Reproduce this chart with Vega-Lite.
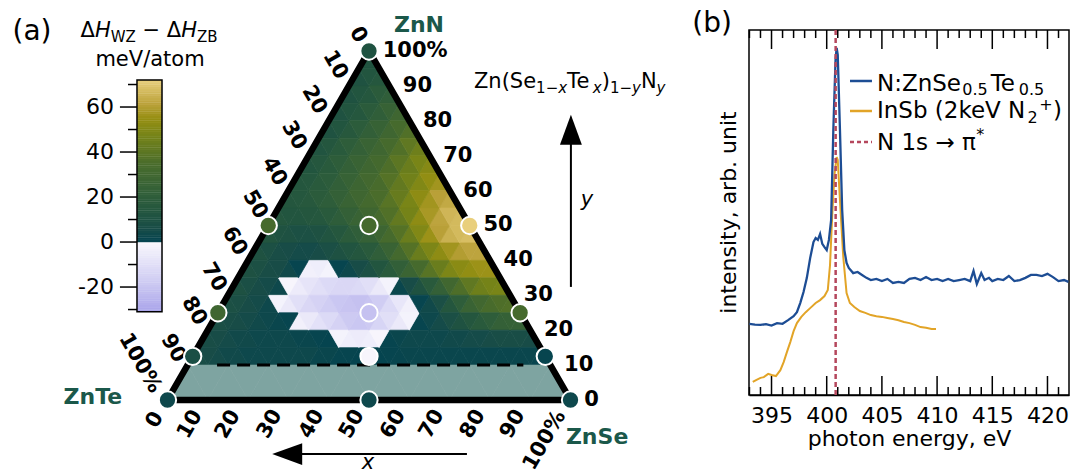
{
"$schema": "https://vega.github.io/schema/vega-lite/v6.json",
"padding": 0,
"background": "white",
"bounds": "flush",
"spacing": 59,
"config": {"font": "DejaVu Sans", "view": {"stroke": null}},
"datasets": {
"hm": [
{"n":12.5,"u":[7.5,10,12.5,15,17.5,20,22.5,25,27.5,30,32.5,35,37.5,40,42.5,45,47.5,50,52.5,55,57.5,60,62.5,65,67.5,70,72.5,75,77.5,80,82.5,85,87.5,90,92.5],"v":[7,6,5,4,4,3,3,3,3,3,3,3,2,2,1,1,0.5,0.5,0.5,1,1.5,2,2,2,2,2,2,2,2,2,2,2,2,2,1]},
{"n":17.5,"u":[10,12.5,15,17.5,20,22.5,25,27.5,30,32.5,35,37.5,40,42.5,45,47.5,50,52.5,55,57.5,60,62.5,65,67.5,70,72.5,75,77.5,80,82.5,85,87.5,90],"v":[7,6,5,4,4,3,3,3,3,2,2,1,0.5,-2,-4,-5,-4,-1,1,2,3,3,3,3,4,4,5,5,6,7,7,7,6]},
{"n":22.5,"u":[12.5,15,17.5,20,22.5,25,27.5,30,32.5,35,37.5,40,42.5,45,47.5,50,52.5,55,57.5,60,62.5,65,67.5,70,72.5,75,77.5,80,82.5,85,87.5],"v":[8,7,6,5,4,3,2,1,-3,-6,-9,-12,-15,-18,-19,-18,-14,-10,-6,-2,1,3,5,8,11,14,17,20,23,24,24]},
{"n":27.5,"u":[15,17.5,20,22.5,25,27.5,30,32.5,35,37.5,40,42.5,45,47.5,50,52.5,55,57.5,60,62.5,65,67.5,70,72.5,75,77.5,80,82.5,85],"v":[9,8,6,5,3,-2,-6,-10,-13,-15,-17,-19,-20,-21,-20,-17,-12,-7,-3,1,4,8,14,20,26,30,34,36,37]},
{"n":32.5,"u":[17.5,20,22.5,25,27.5,30,32.5,35,37.5,40,42.5,45,47.5,50,52.5,55,57.5,60,62.5,65,67.5,70,72.5,75,77.5,80,82.5],"v":[10,8,6,5,3,-1,-5,-8,-10,-12,-13,-13,-12,-10,-6,-2,2,6,11,17,23,30,36,41,45,47,48]},
{"n":37.5,"u":[20,22.5,25,27.5,30,32.5,35,37.5,40,42.5,45,47.5,50,52.5,55,57.5,60,62.5,65,67.5,70,72.5,75,77.5,80],"v":[10,9,7,6,4,1,-3,-4,-2,1,3,6,9,13,17,22,27,33,39,44,49,52,54,56,56]},
{"n":42.5,"u":[22.5,25,27.5,30,32.5,35,37.5,40,42.5,45,47.5,50,52.5,55,57.5,60,62.5,65,67.5,70,72.5,75,77.5],"v":[11,9,7,6,5,5,6,8,10,12,14,17,21,26,32,38,44,49,53,57,60,62,62]},
{"n":47.5,"u":[25,27.5,30,32.5,35,37.5,40,42.5,45,47.5,50,52.5,55,57.5,60,62.5,65,67.5,70,72.5,75],"v":[13,11,10,9,9,10,12,15,18,21,24,28,33,38,44,50,56,61,65,67,68]},
{"n":52.5,"u":[27.5,30,32.5,35,37.5,40,42.5,45,47.5,50,52.5,55,57.5,60,62.5,65,67.5,70,72.5],"v":[14,13,13,14,15,17,20,23,26,29,33,37,42,47,53,58,62,66,67]},
{"n":57.5,"u":[30,32.5,35,37.5,40,42.5,45,47.5,50,52.5,55,57.5,60,62.5,65,67.5,70],"v":[14,15,16,18,20,23,26,29,32,35,39,43,48,53,57,61,63]},
{"n":62.5,"u":[32.5,35,37.5,40,42.5,45,47.5,50,52.5,55,57.5,60,62.5,65,67.5],"v":[14,15,17,19,22,25,28,31,34,38,42,46,50,54,57]},
{"n":67.5,"u":[35,37.5,40,42.5,45,47.5,50,52.5,55,57.5,60,62.5,65],"v":[13,15,17,20,23,26,29,32,36,40,44,48,51]},
{"n":72.5,"u":[37.5,40,42.5,45,47.5,50,52.5,55,57.5,60,62.5],"v":[12,14,17,20,23,26,29,33,37,41,45]},
{"n":77.5,"u":[40,42.5,45,47.5,50,52.5,55,57.5,60],"v":[11,13,16,19,22,25,29,33,37]},
{"n":82.5,"u":[42.5,45,47.5,50,52.5,55,57.5],"v":[11,13,15,18,21,25,29]},
{"n":87.5,"u":[45,47.5,50,52.5,55],"v":[11,13,15,18,21]},
{"n":92.5,"u":[47.5,50,52.5],"v":[11,13,15]},
{"n":97.5,"u":[50],"v":[12]}
],
"band": [{"n":5,"u":[5,10,15,20,25,30,35,40,45,50,55,60,65,70,75,80,85,90,95]}],
"outline": [{"u":0,"n":0,"o":0},{"u":50,"n":100,"o":1},{"u":100,"n":0,"o":2},{"u":0,"n":0,"o":3}],
"pts": [{"u":50,"n":100,"w":11},{"u":25,"n":50,"w":33},{"u":50,"n":50,"w":33},{"u":75,"n":50,"w":72},{"u":12.5,"n":25,"w":29},{"u":50,"n":25,"w":-21},{"u":87.5,"n":25,"w":33},{"u":6.25,"n":12.5,"w":8},{"u":50,"n":12.5,"w":-1},{"u":93.75,"n":12.5,"w":1},{"u":0,"n":0,"w":3},{"u":50,"n":0,"w":3},{"u":100,"n":0,"w":3}],
"rlab": [{"t":"100%","u":53.4,"n":100},{"t":"90","u":58.4,"n":90},{"t":"80","u":63.4,"n":80},{"t":"70","u":68.4,"n":70},{"t":"60","u":73.4,"n":60},{"t":"50","u":78.4,"n":50},{"t":"40","u":83.4,"n":40},{"t":"30","u":88.4,"n":30},{"t":"20","u":93.4,"n":20},{"t":"10","u":98.4,"n":10},{"t":"0","u":103.4,"n":0}],
"llab": [{"t":"0","u":47.3,"n":104.6},{"t":"10","u":41.6,"n":96.0},{"t":"20","u":36.4,"n":86.0},{"t":"30","u":31.4,"n":75.8},{"t":"40","u":26.5,"n":65.5},{"t":"50","u":21.7,"n":56.0},{"t":"60","u":16.6,"n":45.5},{"t":"70","u":11.5,"n":35.2},{"t":"80","u":6.6,"n":25.5},{"t":"90","u":1.4,"n":14.8},{"t":"100%","u":-6.8,"n":10.6}],
"blab": [{"t":"0","u":-3.1,"n":-5.7},{"t":"10","u":5.6,"n":-7.0},{"t":"20","u":15.0,"n":-7.0},{"t":"30","u":25.4,"n":-6.9},{"t":"40","u":35.8,"n":-6.9},{"t":"50","u":45.8,"n":-6.9},{"t":"60","u":56.0,"n":-6.9},{"t":"70","u":65.6,"n":-6.9},{"t":"80","u":75.8,"n":-6.9},{"t":"90","u":85.7,"n":-6.9},{"t":"100%","u":93.6,"n":-11.6}],
"corner": [{"t":"ZnN","u":62.4,"n":107.4},{"t":"ZnTe","u":-18.5,"n":0.9},{"t":"ZnSe","u":106.6,"n":-10.6}],
"tmain": [{"t":"Zn(Se","u":76.05,"n":89.4},{"t":"Te","u":99.16,"n":89.4},{"t":")","u":107.74,"n":89.4},{"t":"N","u":117.47,"n":89.4},{"t":"Δ","u":-21.59,"n":104.01},{"t":"−","u":-6.2,"n":104.01},{"t":"Δ","u":-0.17,"n":104.01}],
"tsub": [{"t":"1−","u":91.46,"n":87.97},{"t":"1−","u":109.78,"n":87.97},{"t":"WZ","u":-14.09,"n":102.58},{"t":"ZB","u":7.32,"n":102.58}],
"tital": [{"t":"H","u":-18.01,"n":104.01},{"t":"H","u":3.4,"n":104.01}],
"tsubital": [{"t":"x","u":96.95,"n":87.97},{"t":"x","u":105.53,"n":87.97},{"t":"y","u":115.26,"n":87.97},{"t":"y","u":121.36,"n":87.97}],
"arrlab": [{"t":"x","u":49.75,"n":-18.0},{"t":"y","u":104.09,"n":57.31}],
"cb": [{"cv":[-30.5,-29.5,-28.5,-27.5,-26.5,-25.5,-24.5,-23.5,-22.5,-21.5,-20.5,-19.5,-18.5,-17.5,-16.5,-15.5,-14.5,-13.5,-12.5,-11.5,-10.5,-9.5,-8.5,-7.5,-6.5,-5.5,-4.5,-3.5,-2.5,-1.5,-0.5,0.5,1.5,2.5,3.5,4.5,5.5,6.5,7.5,8.5,9.5,10.5,11.5,12.5,13.5,14.5,15.5,16.5,17.5,18.5,19.5,20.5,21.5,22.5,23.5,24.5,25.5,26.5,27.5,28.5,29.5,30.5,31.5,32.5,33.5,34.5,35.5,36.5,37.5,38.5,39.5,40.5,41.5,42.5,43.5,44.5,45.5,46.5,47.5,48.5,49.5,50.5,51.5,52.5,53.5,54.5,55.5,56.5,57.5,58.5,59.5,60.5,61.5,62.5,63.5,64.5,65.5,66.5,67.5,68.5,69.5,70.5,71.5]}],
"cbmaj": [{"cv":-20},{"cv":0},{"cv":20},{"cv":40},{"cv":60}],
"cbmin": [{"cv":-30},{"cv":-10},{"cv":10},{"cv":30},{"cv":50},{"cv":70}],
"cblab": [{"t":"60","cv":60},{"t":"40","cv":40},{"t":"20","cv":20},{"t":"0","cv":0},{"t":"-20","cv":-20}],
"majt": [{"e":[395,400,405,410,415,420]}],
"mint": [{"e":[393,394,396,397,398,399,401,402,403,404,406,407,408,409,411,412,413,414,416,417,418,419,421]}],
"blue": [{"e":393.0,"i":19.5},{"e":393.5,"i":19.3},{"e":394.0,"i":19.2},{"e":394.5,"i":19.4},{"e":395.0,"i":19.0},{"e":395.5,"i":19.7},{"e":396.0,"i":19.5},{"e":396.5,"i":20.5},{"e":397.0,"i":21.6},{"e":397.3,"i":22.7},{"e":397.6,"i":25.2},{"e":397.9,"i":28.2},{"e":398.2,"i":32.1},{"e":398.5,"i":37.5},{"e":398.8,"i":41.9},{"e":399.0,"i":43.0},{"e":399.2,"i":42.5},{"e":399.4,"i":44.1},{"e":399.6,"i":41.4},{"e":399.8,"i":40.5},{"e":400.0,"i":39.7},{"e":400.2,"i":42.5},{"e":400.4,"i":47.9},{"e":400.6,"i":72.6},{"e":400.8,"i":91.8},{"e":400.9,"i":95.1},{"e":401.0,"i":93.2},{"e":401.2,"i":72.6},{"e":401.4,"i":50.7},{"e":401.6,"i":39.7},{"e":401.8,"i":36.2},{"e":402.0,"i":34.8},{"e":402.4,"i":33.4},{"e":402.8,"i":33.7},{"e":403.2,"i":32.9},{"e":403.6,"i":32.1},{"e":404.0,"i":31.5},{"e":404.5,"i":31.8},{"e":405.0,"i":31.2},{"e":405.5,"i":31.8},{"e":406.0,"i":30.7},{"e":406.5,"i":31.0},{"e":407.0,"i":30.7},{"e":407.5,"i":31.8},{"e":408.0,"i":32.1},{"e":408.5,"i":31.5},{"e":409.0,"i":32.3},{"e":409.5,"i":31.5},{"e":410.0,"i":31.8},{"e":410.5,"i":31.2},{"e":411.0,"i":31.8},{"e":411.5,"i":31.2},{"e":412.0,"i":31.5},{"e":412.5,"i":31.8},{"e":413.0,"i":31.2},{"e":413.3,"i":34.0},{"e":413.6,"i":30.4},{"e":414.0,"i":33.4},{"e":414.3,"i":31.5},{"e":414.7,"i":32.1},{"e":415.0,"i":31.2},{"e":415.5,"i":31.8},{"e":416.0,"i":31.5},{"e":416.5,"i":32.6},{"e":417.0,"i":31.2},{"e":417.5,"i":31.5},{"e":418.0,"i":32.1},{"e":418.5,"i":32.9},{"e":419.0,"i":32.9},{"e":419.5,"i":32.6},{"e":420.0,"i":33.2},{"e":420.5,"i":32.3},{"e":421.0,"i":31.2},{"e":421.5,"i":31.5},{"e":421.9,"i":31.0}],
"orange": [{"e":393.3,"i":3.6},{"e":393.6,"i":4.1},{"e":394.0,"i":4.7},{"e":394.3,"i":4.9},{"e":394.7,"i":5.8},{"e":395.0,"i":5.5},{"e":395.4,"i":5.2},{"e":395.8,"i":6.8},{"e":396.1,"i":9.0},{"e":396.4,"i":11.8},{"e":396.7,"i":14.5},{"e":397.0,"i":17.5},{"e":397.3,"i":19.7},{"e":397.7,"i":21.4},{"e":398.1,"i":22.7},{"e":398.5,"i":23.8},{"e":399.0,"i":25.2},{"e":399.4,"i":26.0},{"e":399.8,"i":27.1},{"e":400.1,"i":28.8},{"e":400.3,"i":35.6},{"e":400.5,"i":49.3},{"e":400.7,"i":60.3},{"e":400.9,"i":65.2},{"e":401.0,"i":64.4},{"e":401.2,"i":53.4},{"e":401.5,"i":37.8},{"e":401.8,"i":27.9},{"e":402.1,"i":25.2},{"e":402.5,"i":24.1},{"e":403.0,"i":23.0},{"e":403.5,"i":22.5},{"e":404.0,"i":21.9},{"e":404.5,"i":21.6},{"e":405.0,"i":21.4},{"e":405.5,"i":21.1},{"e":406.0,"i":20.8},{"e":406.5,"i":20.5},{"e":407.0,"i":20.0},{"e":407.5,"i":19.7},{"e":408.0,"i":19.2},{"e":408.5,"i":18.6},{"e":409.0,"i":18.4},{"e":409.5,"i":18.1},{"e":409.9,"i":18.1}],
"lmain": [{"t":"N:ZnSe","e":404.55,"i":83.29},{"t":"Te","e":414.85,"i":83.29},{"t":"InSb (2keV N","e":404.55,"i":75.89},{"t":")","e":420.5,"i":75.89},{"t":"N 1s → π","e":404.55,"i":67.12}],
"lsub": [{"t":"0.5","e":412.28,"i":82.2},{"t":"0.5","e":417.4,"i":82.2},{"t":"2","e":418.2,"i":74.52},{"t":"+","e":419.25,"i":78.0},{"t":"*","e":413.55,"i":69.86}]
},
"hconcat": [
{
"width": 690, "height": 472,
"resolve": {"scale": {"y": "independent"}},
"layer": [
{"data": {"name": "hm"}, "transform": [{"flatten": ["u", "v"]}, {"filter": "(datum.u - datum.n/2) % 5 < 2.5"}],
 "mark": {"type": "point", "shape": "triangle-up", "size": 406, "filled": true, "opacity": 1, "strokeWidth": 0.7},
 "encoding": {
  "x": {"field": "u", "type": "quantitative", "scale": {"domain": [-41.56, 129.65], "nice": false, "zero": false}, "axis": null},
  "y": {"field": "n", "type": "quantitative", "scale": {"domain": [-20.63, 114.61], "nice": false, "zero": false}, "axis": null},
  "color": {"field": "v", "type": "quantitative", "scale": {"domain": [-31,-17,-0.01,0,6,13,20,35,47,55,61,72], "range": ["#a9a4ea","#d0cdf3","#f9f8fd","#034350","#184c47","#22553f","#2e5d3a","#4a6c2b","#758318","#968f12","#b9a038","#e9cf7c"], "interpolate": "rgb"}, "legend": null},
  "stroke": {"field": "v", "type": "quantitative", "scale": {"domain": [-31,-17,-0.01,0,6,13,20,35,47,55,61,72], "range": ["#a9a4ea","#d0cdf3","#f9f8fd","#034350","#184c47","#22553f","#2e5d3a","#4a6c2b","#758318","#968f12","#b9a038","#e9cf7c"], "interpolate": "rgb"}, "legend": null}
 }},
{"data": {"name": "hm"}, "transform": [{"flatten": ["u", "v"]}, {"filter": "(datum.u - datum.n/2) % 5 >= 2.5"}],
 "mark": {"type": "point", "shape": "triangle-down", "size": 406, "filled": true, "opacity": 1, "strokeWidth": 0.7},
 "encoding": {
  "x": {"field": "u", "type": "quantitative", "scale": {"domain": [-41.56, 129.65], "nice": false, "zero": false}, "axis": null},
  "y": {"field": "n", "type": "quantitative", "scale": {"domain": [-20.63, 114.61], "nice": false, "zero": false}, "axis": null},
  "color": {"field": "v", "type": "quantitative", "scale": {"domain": [-31,-17,-0.01,0,6,13,20,35,47,55,61,72], "range": ["#a9a4ea","#d0cdf3","#f9f8fd","#034350","#184c47","#22553f","#2e5d3a","#4a6c2b","#758318","#968f12","#b9a038","#e9cf7c"], "interpolate": "rgb"}, "legend": null},
  "stroke": {"field": "v", "type": "quantitative", "scale": {"domain": [-31,-17,-0.01,0,6,13,20,35,47,55,61,72], "range": ["#a9a4ea","#d0cdf3","#f9f8fd","#034350","#184c47","#22553f","#2e5d3a","#4a6c2b","#758318","#968f12","#b9a038","#e9cf7c"], "interpolate": "rgb"}, "legend": null}
 }},
{"data": {"name": "band"}, "transform": [{"flatten": ["u"]}, {"filter": "(datum.u - datum.n/2) % 10 < 5"}],
 "mark": {"type": "point", "shape": "triangle-up", "size": 1624, "filled": true, "opacity": 1, "color": "#7ea4a1", "stroke": "#7ea4a1", "strokeWidth": 0.7},
 "encoding": {
  "x": {"field": "u", "type": "quantitative", "scale": {"domain": [-41.56, 129.65], "nice": false, "zero": false}, "axis": null},
  "y": {"field": "n", "type": "quantitative", "scale": {"domain": [-20.63, 114.61], "nice": false, "zero": false}, "axis": null}
 }},
{"data": {"name": "band"}, "transform": [{"flatten": ["u"]}, {"filter": "(datum.u - datum.n/2) % 10 >= 5"}],
 "mark": {"type": "point", "shape": "triangle-down", "size": 1624, "filled": true, "opacity": 1, "color": "#7ea4a1", "stroke": "#7ea4a1", "strokeWidth": 0.7},
 "encoding": {
  "x": {"field": "u", "type": "quantitative", "scale": {"domain": [-41.56, 129.65], "nice": false, "zero": false}, "axis": null},
  "y": {"field": "n", "type": "quantitative", "scale": {"domain": [-20.63, 114.61], "nice": false, "zero": false}, "axis": null}
 }},
{"data": {"name": "outline"},
 "mark": {"type": "line", "color": "black", "strokeWidth": 6.5, "strokeJoin": "miter"},
 "encoding": {
  "x": {"field": "u", "type": "quantitative", "scale": {"domain": [-41.56, 129.65], "nice": false, "zero": false}, "axis": null},
  "y": {"field": "n", "type": "quantitative", "scale": {"domain": [-20.63, 114.61], "nice": false, "zero": false}, "axis": null},
  "order": {"field": "o", "type": "quantitative"}
 }},
{"data": {"values": [{}]},
 "mark": {"type": "rule", "color": "black", "strokeWidth": 3, "strokeDash": [13, 7]},
 "encoding": {
  "x": {"datum": 12.3, "type": "quantitative", "scale": {"domain": [-41.56, 129.65], "nice": false, "zero": false}, "axis": null},
  "x2": {"datum": 88.3},
  "y": {"datum": 10, "type": "quantitative", "scale": {"domain": [-20.63, 114.61], "nice": false, "zero": false}, "axis": null}
 }},
{"data": {"name": "rlab"},
 "mark": {"type": "text", "align": "left", "baseline": "middle", "fontSize": 21, "fontWeight": "bold", "color": "black"},
 "encoding": {
  "x": {"field": "u", "type": "quantitative", "scale": {"domain": [-41.56, 129.65], "nice": false, "zero": false}, "axis": null},
  "y": {"field": "n", "type": "quantitative", "scale": {"domain": [-20.63, 114.61], "nice": false, "zero": false}, "axis": null},
  "text": {"field": "t"}
 }},
{"data": {"name": "llab"},
 "mark": {"type": "text", "align": "center", "baseline": "middle", "fontSize": 21, "fontWeight": "bold", "color": "black", "angle": 60},
 "encoding": {
  "x": {"field": "u", "type": "quantitative", "scale": {"domain": [-41.56, 129.65], "nice": false, "zero": false}, "axis": null},
  "y": {"field": "n", "type": "quantitative", "scale": {"domain": [-20.63, 114.61], "nice": false, "zero": false}, "axis": null},
  "text": {"field": "t"}
 }},
{"data": {"name": "blab"},
 "mark": {"type": "text", "align": "center", "baseline": "middle", "fontSize": 21, "fontWeight": "bold", "color": "black", "angle": 300},
 "encoding": {
  "x": {"field": "u", "type": "quantitative", "scale": {"domain": [-41.56, 129.65], "nice": false, "zero": false}, "axis": null},
  "y": {"field": "n", "type": "quantitative", "scale": {"domain": [-20.63, 114.61], "nice": false, "zero": false}, "axis": null},
  "text": {"field": "t"}
 }},
{"data": {"name": "corner"},
 "mark": {"type": "text", "align": "center", "baseline": "middle", "fontSize": 22, "fontWeight": "bold", "color": "#1b584a"},
 "encoding": {
  "x": {"field": "u", "type": "quantitative", "scale": {"domain": [-41.56, 129.65], "nice": false, "zero": false}, "axis": null},
  "y": {"field": "n", "type": "quantitative", "scale": {"domain": [-20.63, 114.61], "nice": false, "zero": false}, "axis": null},
  "text": {"field": "t"}
 }},
{"data": {"name": "tmain"},
 "mark": {"type": "text", "align": "left", "baseline": "alphabetic", "fontSize": 21, "color": "black"},
 "encoding": {
  "x": {"field": "u", "type": "quantitative", "scale": {"domain": [-41.56, 129.65], "nice": false, "zero": false}, "axis": null},
  "y": {"field": "n", "type": "quantitative", "scale": {"domain": [-20.63, 114.61], "nice": false, "zero": false}, "axis": null},
  "text": {"field": "t"}
 }},
{"data": {"name": "tsub"},
 "mark": {"type": "text", "align": "left", "baseline": "alphabetic", "fontSize": 15, "color": "black"},
 "encoding": {
  "x": {"field": "u", "type": "quantitative", "scale": {"domain": [-41.56, 129.65], "nice": false, "zero": false}, "axis": null},
  "y": {"field": "n", "type": "quantitative", "scale": {"domain": [-20.63, 114.61], "nice": false, "zero": false}, "axis": null},
  "text": {"field": "t"}
 }},
{"data": {"name": "tital"},
 "mark": {"type": "text", "align": "left", "baseline": "alphabetic", "fontSize": 21, "fontStyle": "italic", "color": "black"},
 "encoding": {
  "x": {"field": "u", "type": "quantitative", "scale": {"domain": [-41.56, 129.65], "nice": false, "zero": false}, "axis": null},
  "y": {"field": "n", "type": "quantitative", "scale": {"domain": [-20.63, 114.61], "nice": false, "zero": false}, "axis": null},
  "text": {"field": "t"}
 }},
{"data": {"name": "tsubital"},
 "mark": {"type": "text", "align": "left", "baseline": "alphabetic", "fontSize": 15, "fontStyle": "italic", "color": "black"},
 "encoding": {
  "x": {"field": "u", "type": "quantitative", "scale": {"domain": [-41.56, 129.65], "nice": false, "zero": false}, "axis": null},
  "y": {"field": "n", "type": "quantitative", "scale": {"domain": [-20.63, 114.61], "nice": false, "zero": false}, "axis": null},
  "text": {"field": "t"}
 }},
{"data": {"values": [{"t": "meV/atom", "u": -4.34, "n": 95.56}]},
 "mark": {"type": "text", "align": "center", "baseline": "alphabetic", "fontSize": 21, "color": "black"},
 "encoding": {
  "x": {"field": "u", "type": "quantitative", "scale": {"domain": [-41.56, 129.65], "nice": false, "zero": false}, "axis": null},
  "y": {"field": "n", "type": "quantitative", "scale": {"domain": [-20.63, 114.61], "nice": false, "zero": false}, "axis": null},
  "text": {"field": "t"}
 }},
{"data": {"values": [{"t": "(a)", "u": -33.62, "n": 105.44}]},
 "mark": {"type": "text", "align": "center", "baseline": "middle", "fontSize": 28, "color": "black"},
 "encoding": {
  "x": {"field": "u", "type": "quantitative", "scale": {"domain": [-41.56, 129.65], "nice": false, "zero": false}, "axis": null},
  "y": {"field": "n", "type": "quantitative", "scale": {"domain": [-20.63, 114.61], "nice": false, "zero": false}, "axis": null},
  "text": {"field": "t"}
 }},
{"data": {"name": "arrlab"},
 "mark": {"type": "text", "align": "center", "baseline": "middle", "fontSize": 21, "fontStyle": "italic", "color": "black"},
 "encoding": {
  "x": {"field": "u", "type": "quantitative", "scale": {"domain": [-41.56, 129.65], "nice": false, "zero": false}, "axis": null},
  "y": {"field": "n", "type": "quantitative", "scale": {"domain": [-20.63, 114.61], "nice": false, "zero": false}, "axis": null},
  "text": {"field": "t"}
 }},
{"data": {"values": [{}]},
 "mark": {"type": "rule", "color": "black", "strokeWidth": 2},
 "encoding": {
  "x": {"datum": 32.0, "type": "quantitative", "scale": {"domain": [-41.56, 129.65], "nice": false, "zero": false}, "axis": null},
  "x2": {"datum": 74.3},
  "y": {"datum": -15.5, "type": "quantitative", "scale": {"domain": [-20.63, 114.61], "nice": false, "zero": false}, "axis": null}
 }},
{"data": {"values": [{}]},
 "mark": {"type": "point", "shape": "M-1,0L1,-0.73L1,0.73Z", "size": 900, "filled": true, "opacity": 1, "color": "black"},
 "encoding": {
  "x": {"datum": 29.7, "type": "quantitative", "scale": {"domain": [-41.56, 129.65], "nice": false, "zero": false}, "axis": null},
  "y": {"datum": -15.5, "type": "quantitative", "scale": {"domain": [-20.63, 114.61], "nice": false, "zero": false}, "axis": null}
 }},
{"data": {"values": [{}]},
 "mark": {"type": "rule", "color": "black", "strokeWidth": 2},
 "encoding": {
  "x": {"datum": 100.1, "type": "quantitative", "scale": {"domain": [-41.56, 129.65], "nice": false, "zero": false}, "axis": null},
  "y": {"datum": 32.4, "type": "quantitative", "scale": {"domain": [-20.63, 114.61], "nice": false, "zero": false}, "axis": null},
  "y2": {"datum": 75.0}
 }},
{"data": {"values": [{}]},
 "mark": {"type": "point", "shape": "M0,-1L-0.73,1L0.73,1Z", "size": 900, "filled": true, "opacity": 1, "color": "black"},
 "encoding": {
  "x": {"datum": 100.1, "type": "quantitative", "scale": {"domain": [-41.56, 129.65], "nice": false, "zero": false}, "axis": null},
  "y": {"datum": 77.4, "type": "quantitative", "scale": {"domain": [-20.63, 114.61], "nice": false, "zero": false}, "axis": null}
 }},
{"data": {"name": "cb"}, "transform": [{"flatten": ["cv"]}],
 "mark": {"type": "rule", "strokeWidth": 2.6, "strokeCap": "butt"},
 "encoding": {
  "x": {"datum": -7.57, "type": "quantitative", "scale": {"domain": [-41.56, 129.65], "nice": false, "zero": false}, "axis": null},
  "x2": {"datum": -1.36},
  "y": {"field": "cv", "type": "quantitative", "scale": {"domain": [-102.2, 107.56], "nice": false, "zero": false}, "axis": null},
  "color": {"field": "cv", "type": "quantitative", "scale": {"domain": [-31,-17,-0.01,0,6,13,20,35,47,55,61,72], "range": ["#a9a4ea","#d0cdf3","#f9f8fd","#034350","#184c47","#22553f","#2e5d3a","#4a6c2b","#758318","#968f12","#b9a038","#e9cf7c"], "interpolate": "rgb"}, "legend": null}
 }},
{"data": {"values": [{}]},
 "mark": {"type": "rect", "fillOpacity": 0, "stroke": "black", "strokeWidth": 1.5},
 "encoding": {
  "x": {"datum": -7.57, "type": "quantitative", "scale": {"domain": [-41.56, 129.65], "nice": false, "zero": false}, "axis": null},
  "x2": {"datum": -1.36},
  "y": {"datum": -31, "type": "quantitative", "scale": {"domain": [-102.2, 107.56], "nice": false, "zero": false}, "axis": null},
  "y2": {"datum": 72}
 }},
{"data": {"name": "cbmaj"},
 "mark": {"type": "rule", "color": "black", "strokeWidth": 1.5},
 "encoding": {
  "x": {"datum": -11.8, "type": "quantitative", "scale": {"domain": [-41.56, 129.65], "nice": false, "zero": false}, "axis": null},
  "x2": {"datum": -7.57},
  "y": {"field": "cv", "type": "quantitative", "scale": {"domain": [-102.2, 107.56], "nice": false, "zero": false}, "axis": null}
 }},
{"data": {"name": "cbmin"},
 "mark": {"type": "rule", "color": "black", "strokeWidth": 1.5},
 "encoding": {
  "x": {"datum": -9.8, "type": "quantitative", "scale": {"domain": [-41.56, 129.65], "nice": false, "zero": false}, "axis": null},
  "x2": {"datum": -7.57},
  "y": {"field": "cv", "type": "quantitative", "scale": {"domain": [-102.2, 107.56], "nice": false, "zero": false}, "axis": null}
 }},
{"data": {"name": "cblab"},
 "mark": {"type": "text", "align": "right", "baseline": "middle", "fontSize": 22, "color": "black"},
 "encoding": {
  "x": {"datum": -13.28, "type": "quantitative", "scale": {"domain": [-41.56, 129.65], "nice": false, "zero": false}, "axis": null},
  "y": {"field": "cv", "type": "quantitative", "scale": {"domain": [-102.2, 107.56], "nice": false, "zero": false}, "axis": null},
  "text": {"field": "t"}
 }},
{"data": {"name": "pts"},
 "mark": {"type": "circle", "size": 300, "opacity": 1, "stroke": "white", "strokeWidth": 2, "strokeOpacity": 1},
 "encoding": {
  "x": {"field": "u", "type": "quantitative", "scale": {"domain": [-41.56, 129.65], "nice": false, "zero": false}, "axis": null},
  "y": {"field": "n", "type": "quantitative", "scale": {"domain": [-20.63, 114.61], "nice": false, "zero": false}, "axis": null},
  "fill": {"field": "w", "type": "quantitative", "scale": {"domain": [-31,-17,-0.01,0,6,13,20,35,47,55,61,72], "range": ["#a9a4ea","#d0cdf3","#f9f8fd","#034350","#184c47","#22553f","#2e5d3a","#4a6c2b","#758318","#968f12","#b9a038","#e9cf7c"], "interpolate": "rgb"}, "legend": null}
 }}
]
},
{
"width": 320, "height": 395,
"resolve": {"axis": {"x": "independent", "y": "independent"}},
"layer": [
{"data": {"values": [{}]},
 "mark": {"type": "rect", "fillOpacity": 0, "stroke": "black", "strokeWidth": 1.5},
 "encoding": {
  "x": {"datum": 392.96, "type": "quantitative", "scale": {"domain": [392.96, 421.95], "nice": false, "zero": false}, "axis": null},
  "x2": {"datum": 421.95},
  "y": {"datum": 0, "type": "quantitative", "scale": {"domain": [0, 108.22], "nice": false, "zero": false}, "axis": null},
  "y2": {"datum": 100}
 }},
{"data": {"name": "majt"}, "transform": [{"flatten": ["e"]}],
 "mark": {"type": "rule", "color": "black", "strokeWidth": 1.5},
 "encoding": {
  "x": {"field": "e", "type": "quantitative", "scale": {"domain": [392.96, 421.95], "nice": false, "zero": false}, "axis": null},
  "y": {"datum": 0, "type": "quantitative", "scale": {"domain": [0, 108.22], "nice": false, "zero": false}, "axis": null},
  "y2": {"datum": 5.2}
 }},
{"data": {"name": "majt"}, "transform": [{"flatten": ["e"]}],
 "mark": {"type": "rule", "color": "black", "strokeWidth": 1.5},
 "encoding": {
  "x": {"field": "e", "type": "quantitative", "scale": {"domain": [392.96, 421.95], "nice": false, "zero": false}, "axis": null},
  "y": {"datum": 94.8, "type": "quantitative", "scale": {"domain": [0, 108.22], "nice": false, "zero": false}, "axis": null},
  "y2": {"datum": 100}
 }},
{"data": {"name": "mint"}, "transform": [{"flatten": ["e"]}],
 "mark": {"type": "rule", "color": "black", "strokeWidth": 1.5},
 "encoding": {
  "x": {"field": "e", "type": "quantitative", "scale": {"domain": [392.96, 421.95], "nice": false, "zero": false}, "axis": null},
  "y": {"datum": 0, "type": "quantitative", "scale": {"domain": [0, 108.22], "nice": false, "zero": false}, "axis": null},
  "y2": {"datum": 2.2}
 }},
{"data": {"name": "mint"}, "transform": [{"flatten": ["e"]}],
 "mark": {"type": "rule", "color": "black", "strokeWidth": 1.5},
 "encoding": {
  "x": {"field": "e", "type": "quantitative", "scale": {"domain": [392.96, 421.95], "nice": false, "zero": false}, "axis": null},
  "y": {"datum": 97.8, "type": "quantitative", "scale": {"domain": [0, 108.22], "nice": false, "zero": false}, "axis": null},
  "y2": {"datum": 100}
 }},
{"data": {"name": "orange"},
 "mark": {"type": "line", "color": "#e2a427", "strokeWidth": 2},
 "encoding": {
  "x": {"field": "e", "type": "quantitative", "scale": {"domain": [392.96, 421.95], "nice": false, "zero": false}, "axis": {"orient": "bottom", "values": [395,400,405,410,415,420], "ticks": false, "domain": true, "domainColor": "black", "domainWidth": 1.5, "grid": false, "labelFontSize": 22, "labelColor": "black", "labelPadding": 27, "labelBaseline": "alphabetic", "labelFlush": false, "labelFont": "DejaVu Sans", "title": "photon energy, eV", "titleFont": "DejaVu Sans", "titleFontSize": 22, "titleFontWeight": "normal", "titleColor": "black", "titleBaseline": "alphabetic", "titleY": 50}},
  "y": {"field": "i", "type": "quantitative", "scale": {"domain": [0, 108.22], "nice": false, "zero": false}, "axis": {"orient": "left", "title": "intensity, arb. unit", "ticks": false, "labels": false, "domain": false, "grid": false, "titleFont": "DejaVu Sans", "titleFontSize": 22, "titleFontWeight": "normal", "titleColor": "black", "titleAngle": 270, "titleBaseline": "alphabetic", "titleX": -14, "titleY": 212}}
 }},
{"data": {"name": "blue"},
 "mark": {"type": "line", "color": "#1d4d94", "strokeWidth": 2.3},
 "encoding": {
  "x": {"field": "e", "type": "quantitative", "scale": {"domain": [392.96, 421.95], "nice": false, "zero": false}, "axis": null},
  "y": {"field": "i", "type": "quantitative", "scale": {"domain": [0, 108.22], "nice": false, "zero": false}, "axis": null}
 }},
{"data": {"values": [{}]},
 "mark": {"type": "rule", "color": "#b5475d", "strokeWidth": 2.5, "strokeDash": [5, 3]},
 "encoding": {
  "x": {"datum": 400.81, "type": "quantitative", "scale": {"domain": [392.96, 421.95], "nice": false, "zero": false}, "axis": null},
  "y": {"datum": 0, "type": "quantitative", "scale": {"domain": [0, 108.22], "nice": false, "zero": false}, "axis": null},
  "y2": {"datum": 100}
 }},
{"data": {"values": [{}]},
 "mark": {"type": "rule", "color": "#1d4d94", "strokeWidth": 2.5},
 "encoding": {
  "x": {"datum": 402.11, "type": "quantitative", "scale": {"domain": [392.96, 421.95], "nice": false, "zero": false}, "axis": null},
  "x2": {"datum": 404.1},
  "y": {"datum": 86.03, "type": "quantitative", "scale": {"domain": [0, 108.22], "nice": false, "zero": false}, "axis": null}
 }},
{"data": {"values": [{}]},
 "mark": {"type": "rule", "color": "#e2a427", "strokeWidth": 2.5},
 "encoding": {
  "x": {"datum": 402.11, "type": "quantitative", "scale": {"domain": [392.96, 421.95], "nice": false, "zero": false}, "axis": null},
  "x2": {"datum": 404.1},
  "y": {"datum": 77.81, "type": "quantitative", "scale": {"domain": [0, 108.22], "nice": false, "zero": false}, "axis": null}
 }},
{"data": {"values": [{}]},
 "mark": {"type": "rule", "color": "#b5475d", "strokeWidth": 2.5, "strokeDash": [4, 3]},
 "encoding": {
  "x": {"datum": 402.11, "type": "quantitative", "scale": {"domain": [392.96, 421.95], "nice": false, "zero": false}, "axis": null},
  "x2": {"datum": 404.1},
  "y": {"datum": 69.32, "type": "quantitative", "scale": {"domain": [0, 108.22], "nice": false, "zero": false}, "axis": null}
 }},
{"data": {"name": "lmain"},
 "mark": {"type": "text", "align": "left", "baseline": "alphabetic", "fontSize": 23, "color": "black"},
 "encoding": {
  "x": {"field": "e", "type": "quantitative", "scale": {"domain": [392.96, 421.95], "nice": false, "zero": false}, "axis": null},
  "y": {"field": "i", "type": "quantitative", "scale": {"domain": [0, 108.22], "nice": false, "zero": false}, "axis": null},
  "text": {"field": "t"}
 }},
{"data": {"name": "lsub"},
 "mark": {"type": "text", "align": "left", "baseline": "alphabetic", "fontSize": 16, "color": "black"},
 "encoding": {
  "x": {"field": "e", "type": "quantitative", "scale": {"domain": [392.96, 421.95], "nice": false, "zero": false}, "axis": null},
  "y": {"field": "i", "type": "quantitative", "scale": {"domain": [0, 108.22], "nice": false, "zero": false}, "axis": null},
  "text": {"field": "t"}
 }},
{"data": {"values": [{"t": "(b)", "e": 389.61, "i": 101.6}]},
 "mark": {"type": "text", "align": "center", "baseline": "middle", "fontSize": 28, "color": "black"},
 "encoding": {
  "x": {"field": "e", "type": "quantitative", "scale": {"domain": [392.96, 421.95], "nice": false, "zero": false}, "axis": null},
  "y": {"field": "i", "type": "quantitative", "scale": {"domain": [0, 108.22], "nice": false, "zero": false}, "axis": null},
  "text": {"field": "t"}
 }}
]
}
]
}
